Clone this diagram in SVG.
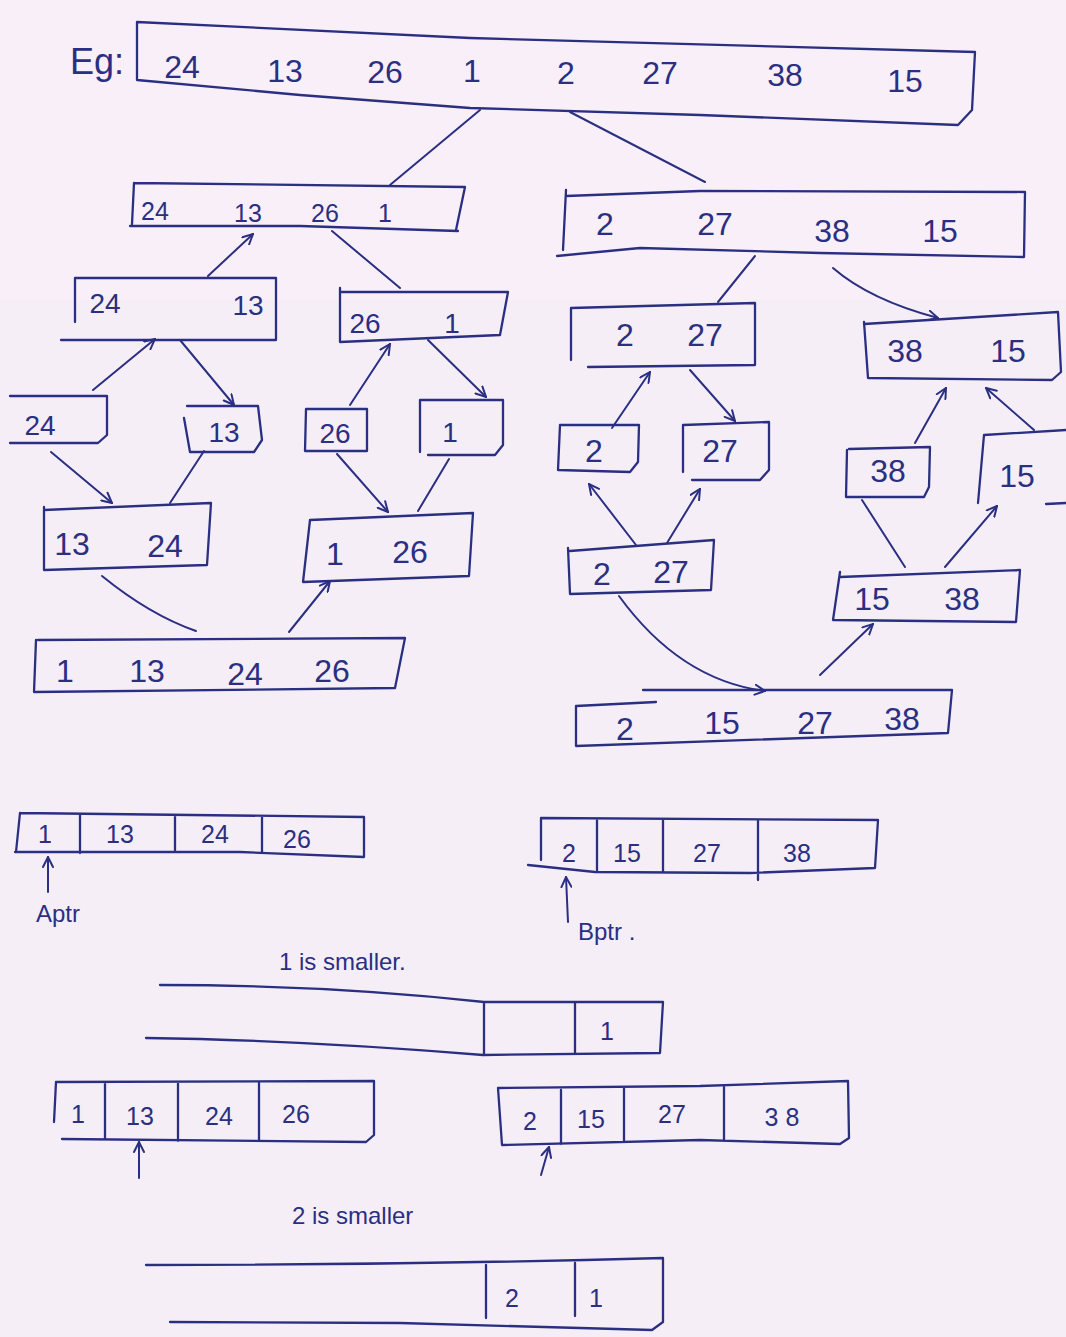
<svg xmlns="http://www.w3.org/2000/svg" width="1066" height="1337" viewBox="0 0 1066 1337">
<defs>
<style>
.ink{fill:none;stroke:#2b2f82;stroke-width:2.3;stroke-linecap:round;stroke-linejoin:round}
.con{fill:none;stroke:#2b2f82;stroke-width:2;stroke-linecap:round}
.t{font-family:"Liberation Sans","DejaVu Sans",sans-serif;fill:#2b2f82;text-anchor:middle;font-size:28px}
.big{font-size:32px}
.sm{font-size:25px}
.lab{font-family:"Liberation Sans","DejaVu Sans",sans-serif;fill:#2b2f82;font-size:24px}
</style>
<marker id="ah" viewBox="0 0 12 12" refX="11" refY="6" markerWidth="12" markerHeight="12" markerUnits="userSpaceOnUse" orient="auto">
<path d="M1,1 L11,6 L1,11" fill="none" stroke="#2b2f82" stroke-width="2" stroke-linecap="round"/>
</marker>
</defs>
<rect width="1066" height="1337" fill="#f8eff8"/>
<rect y="300" width="1066" height="1037" fill="#f5eef7"/>

<text class="lab" x="70" y="74" style="font-size:36px">Eg:</text>

<g id="top">
<path class="ink" d="M137,22 L470,38 L975,52 L972,110 L958,125 L700,115 L470,108 L300,95 L137,80 M137,22 L137,80"/>
<text class="t big" x="182" y="78">24</text>
<text class="t big" x="285" y="82">13</text>
<text class="t big" x="385" y="83">26</text>
<text class="t big" x="472" y="82">1</text>
<text class="t big" x="566" y="84">2</text>
<text class="t big" x="660" y="84">27</text>
<text class="t big" x="785" y="86">38</text>
<text class="t big" x="905" y="92">15</text>
</g>

<g id="l1">
<path class="ink" d="M134,183 L465,187 L456,230 M130,226 L300,226 L458,231 M134,183 L132,224"/>
<text class="t sm" x="155" y="220">24</text>
<text class="t sm" x="248" y="222">13</text>
<text class="t sm" x="325" y="222">26</text>
<text class="t sm" x="385" y="222">1</text>
</g>

<g id="r1">
<path class="ink" d="M566,196 L700,191 L1025,192 L1024,257 L820,253 L640,248 L557,256 M566,190 L563,250"/>
<text class="t big" x="605" y="235">2</text>
<text class="t big" x="715" y="235">27</text>
<text class="t big" x="832" y="242">38</text>
<text class="t big" x="940" y="242">15</text>
</g>

<g id="n24_13">
<path class="ink" d="M75,278 L276,278 L276,340 L61,340 M75,278 L75,322"/>
<text class="t" x="105" y="313">24</text>
<text class="t" x="248" y="315">13</text>
</g>

<g id="n26_1">
<path class="ink" d="M340,292 L508,292 L500,335 L340,342 L340,288"/>
<text class="t" x="365" y="333">26</text>
<text class="t" x="452" y="333">1</text>
</g>

<g id="n2_27">
<path class="ink" d="M571,308 L755,303 L755,365 L588,367 M571,308 L571,360"/>
<text class="t big" x="625" y="346">2</text>
<text class="t big" x="705" y="346">27</text>
</g>

<g id="n38_15">
<path class="ink" d="M864,324 L1058,312 L1061,372 L1052,380 L868,378 L864,322"/>
<text class="t big" x="905" y="362">38</text>
<text class="t big" x="1008" y="362">15</text>
</g>

<g id="leaf24">
<path class="ink" d="M10,396 L107,396 L107,435 L98,443 L10,443"/>
<text class="t" x="40" y="435">24</text>
</g>
<g id="leaf13">
<path class="ink" d="M187,406 L258,406 L262,440 L254,452 L190,452 L184,418"/>
<text class="t" x="224" y="442">13</text>
</g>
<g id="leaf26">
<path class="ink" d="M306,409 L367,409 L367,451 L305,451 Z"/>
<text class="t" x="335" y="443">26</text>
</g>
<g id="leaf1">
<path class="ink" d="M420,400 L503,400 L503,445 L495,455 L428,455 M420,400 L420,452"/>
<text class="t" x="450" y="442">1</text>
</g>
<g id="leaf2">
<path class="ink" d="M560,425 L639,425 L638,462 L630,472 L558,470 L560,425"/>
<text class="t big" x="594" y="462">2</text>
</g>
<g id="leaf27">
<path class="ink" d="M683,425 L769,422 L769,470 L760,480 L692,480 M683,425 L683,472"/>
<text class="t big" x="720" y="462">27</text>
</g>
<g id="leaf38">
<path class="ink" d="M849,449 L930,447 L929,487 L924,497 L846,497 L847,450"/>
<text class="t big" x="888" y="482">38</text>
</g>
<g id="leaf15">
<path class="ink" d="M984,435 L1066,430 M984,435 L978,503 M1066,503 L1046,504"/>
<text class="t big" x="1017" y="487">15</text>
</g>

<g id="m13_24">
<path class="ink" d="M44,510 L211,503 L207,565 L44,570 L44,507"/>
<text class="t big" x="72" y="555">13</text>
<text class="t big" x="165" y="557">24</text>
</g>
<g id="m1_26">
<path class="ink" d="M310,520 L473,513 L469,576 L303,582 L310,520"/>
<text class="t big" x="335" y="565">1</text>
<text class="t big" x="410" y="563">26</text>
</g>
<g id="m2_27">
<path class="ink" d="M570,551 L714,540 L711,590 L570,594 L568,548"/>
<text class="t big" x="602" y="585">2</text>
<text class="t big" x="671" y="583">27</text>
</g>
<g id="m15_38">
<path class="ink" d="M840,577 L1020,570 L1016,622 L833,620 L840,572"/>
<text class="t big" x="872" y="610">15</text>
<text class="t big" x="962" y="610">38</text>
</g>

<g id="f1">
<path class="ink" d="M38,640 L405,638 L395,688 L34,692 L36,640"/>
<text class="t big" x="65" y="682">1</text>
<text class="t big" x="147" y="682">13</text>
<text class="t big" x="245" y="685">24</text>
<text class="t big" x="332" y="682">26</text>
</g>
<g id="f2">
<path class="ink" d="M643,690 L952,690 L948,733 L576,746 L576,706 L656,702"/>
<text class="t big" x="625" y="740">2</text>
<text class="t big" x="722" y="734">15</text>
<text class="t big" x="815" y="734">27</text>
<text class="t big" x="902" y="730">38</text>
</g>

<g id="connectors">
<line class="con" x1="480" y1="110" x2="390" y2="185"/>
<line class="con" x1="570" y1="112" x2="705" y2="182"/>
<line class="con" x1="208" y1="276" x2="253" y2="234" marker-end="url(#ah)"/>
<line class="con" x1="332" y1="231" x2="400" y2="288"/>
<line class="con" x1="755" y1="256" x2="718" y2="302"/>
<path class="con" d="M833,268 Q870,300 938,318" marker-end="url(#ah)"/>
<line class="con" x1="93" y1="390" x2="155" y2="339" marker-end="url(#ah)"/>
<line class="con" x1="180" y1="340" x2="234" y2="405" marker-end="url(#ah)"/>
<line class="con" x1="350" y1="405" x2="390" y2="344" marker-end="url(#ah)"/>
<line class="con" x1="428" y1="340" x2="486" y2="397" marker-end="url(#ah)"/>
<line class="con" x1="612" y1="428" x2="650" y2="372" marker-end="url(#ah)"/>
<line class="con" x1="690" y1="370" x2="735" y2="421" marker-end="url(#ah)"/>
<line class="con" x1="915" y1="443" x2="946" y2="388" marker-end="url(#ah)"/>
<line class="con" x1="1034" y1="430" x2="986" y2="388" marker-end="url(#ah)"/>
<line class="con" x1="51" y1="452" x2="112" y2="503" marker-end="url(#ah)"/>
<line class="con" x1="204" y1="451" x2="170" y2="503"/>
<line class="con" x1="337" y1="454" x2="388" y2="512" marker-end="url(#ah)"/>
<line class="con" x1="449" y1="459" x2="418" y2="511"/>
<line class="con" x1="636" y1="545" x2="589" y2="484" marker-end="url(#ah)"/>
<line class="con" x1="667" y1="543" x2="700" y2="489" marker-end="url(#ah)"/>
<line class="con" x1="862" y1="500" x2="905" y2="567"/>
<line class="con" x1="945" y1="567" x2="997" y2="506" marker-end="url(#ah)"/>
<path class="con" d="M102,576 Q150,615 196,631"/>
<line class="con" x1="289" y1="632" x2="330" y2="581" marker-end="url(#ah)"/>
<path class="con" d="M619,596 Q680,680 765,691" marker-end="url(#ah)"/>
<line class="con" x1="820" y1="675" x2="873" y2="624" marker-end="url(#ah)"/>
</g>

<g id="arrA">
<path class="ink" d="M20,813 L364,817 L364,857 L240,852 L15,852 M20,813 L16,852 M80,815 L80,853 M175,815 L175,850 M262,816 L262,853"/>
<text class="t sm" x="45" y="843">1</text>
<text class="t sm" x="120" y="843">13</text>
<text class="t sm" x="215" y="843">24</text>
<text class="t sm" x="297" y="848">26</text>
<line class="con" x1="48" y1="892" x2="48" y2="857" marker-end="url(#ah)"/>
<text class="lab" x="36" y="922">Aptr</text>
</g>

<g id="arrB">
<path class="ink" d="M541,818 L878,820 L875,868 L750,873 L595,872 L528,865 M541,818 L541,860 M597,820 L597,872 M663,820 L663,871 M758,820 L758,880"/>
<text class="t sm" x="569" y="862">2</text>
<text class="t sm" x="627" y="862">15</text>
<text class="t sm" x="707" y="862">27</text>
<text class="t sm" x="797" y="862">38</text>
<line class="con" x1="568" y1="922" x2="566" y2="877" marker-end="url(#ah)"/>
<text class="lab" x="578" y="940">Bptr .</text>
</g>

<text class="lab" x="279" y="970">1 is smaller.</text>

<g id="res1">
<path class="ink" d="M160,985 Q330,985 484,1002 L663,1002 L660,1053 L483,1055 Q300,1040 146,1038 M484,1002 L484,1055 M575,1002 L575,1053"/>
<text class="t sm" x="607" y="1040">1</text>
</g>

<g id="arrA2">
<path class="ink" d="M56,1082 L374,1081 L374,1135 L366,1142 L62,1139 M56,1082 L54,1122 M105,1083 L105,1139 M178,1083 L178,1141 M259,1083 L259,1141"/>
<text class="t sm" x="78" y="1123">1</text>
<text class="t sm" x="140" y="1125">13</text>
<text class="t sm" x="219" y="1125">24</text>
<text class="t sm" x="296" y="1123">26</text>
<line class="con" x1="139" y1="1178" x2="139" y2="1142" marker-end="url(#ah)"/>
</g>

<g id="arrB2">
<path class="ink" d="M498,1088 L700,1086 L848,1081 L849,1138 L840,1144 L700,1140 L502,1145 L498,1088 M561,1090 L561,1144 M624,1088 L624,1142 M724,1086 L724,1140"/>
<text class="t sm" x="530" y="1130">2</text>
<text class="t sm" x="591" y="1128">15</text>
<text class="t sm" x="672" y="1123">27</text>
<text class="t sm" x="782" y="1126">3 8</text>
<line class="con" x1="541" y1="1175" x2="549" y2="1147" marker-end="url(#ah)"/>
</g>

<text class="lab" x="292" y="1224">2 is smaller</text>

<g id="res2">
<path class="ink" d="M146,1265 Q400,1265 663,1258 L663,1322 L652,1330 L400,1323 L170,1322 M486,1265 L486,1318 M575,1263 L575,1316"/>
<text class="t sm" x="512" y="1307">2</text>
<text class="t sm" x="596" y="1307">1</text>
</g>
</svg>
